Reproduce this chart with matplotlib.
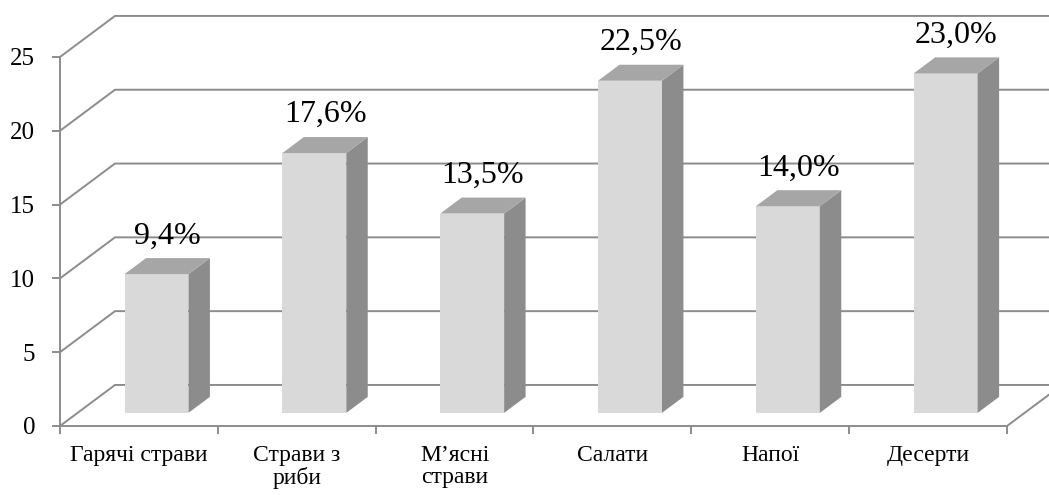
import matplotlib
matplotlib.use("Agg")
import matplotlib.pyplot as plt
from matplotlib.ticker import FixedLocator

categories = ['Гарячі страви', 'Страви з\nриби', 'М’ясні\nстрави', 'Салати', 'Напої', 'Десерти']
shares = [9.4, 17.6, 13.5, 22.5, 14.0, 23.0]
y_ticks = [0, 5, 10, 15, 20, 25]

plt.rcParams['font.family'] = ['Liberation Serif', 'DejaVu Serif']

GRID = '#8c8c8c'
FRONT = '#d9d9d9'
SIDE = '#8c8c8c'
TOP = '#a6a6a6'
LW = 1.4

# oblique depth of the box (data units) and where the bars sit inside it
DX, DY = 0.3485, 2.78
F0, FD = 0.32, 0.39
BAR_W = 0.405

fig = plt.figure(figsize=(10.49, 4.95), dpi=100)
ax = fig.add_axes([0, 0, 1, 1])
n = len(categories)
ax.set_xlim(-0.380, 6.266)
ax.set_ylim(-4.675, 28.86)

# back wall gridlines and left wall diagonals
for v in y_ticks:
    ax.plot([0, DX, n + DX + 0.5], [v, v + DY, v + DY], color=GRID, lw=LW, zorder=1)
# right floor edge
ax.plot([n, n + DX], [0, DY], color=GRID, lw=LW, zorder=1)

# bars as oblique boxes
for i, v in enumerate(shares):
    x0 = i + 0.5 - BAR_W / 2 + F0 * DX
    x1 = x0 + BAR_W
    yb = F0 * DY
    yt = yb + v
    bx, by = FD * DX, FD * DY
    ax.fill([x0, x1, x1, x0], [yb, yb, yt, yt], color=FRONT, zorder=3, lw=0)
    ax.fill([x1, x1 + bx, x1 + bx, x1], [yb, yb + by, yt + by, yt], color=SIDE, zorder=3, lw=0)
    ax.fill([x0, x1, x1 + bx, x0 + bx], [yt, yt, yt + by, yt + by], color=TOP, zorder=3, lw=0)
    ax.text((x0 + x1 + bx) / 2, yt + by + 1.0, f'{v:.1f}%'.replace('.', ','),
            ha='center', va='baseline', fontsize=23, zorder=4)

# front axes
for s in ['top', 'right']:
    ax.spines[s].set_visible(False)
ax.spines['left'].set_position(('data', 0))
ax.spines['bottom'].set_position(('data', 0))
ax.spines['left'].set_bounds(0, 25)
ax.spines['bottom'].set_bounds(0, n)
for s in ['left', 'bottom']:
    ax.spines[s].set_color(GRID)
    ax.spines[s].set_linewidth(LW)

ax.set_yticks(y_ticks)
ax.set_yticklabels([str(t) for t in y_ticks], fontsize=18)
ax.tick_params(axis='y', direction='out', length=5.8, width=LW, color=GRID, pad=12)

ax.xaxis.set_major_locator(FixedLocator(range(n + 1)))
ax.xaxis.set_minor_locator(FixedLocator([i + 0.5 for i in range(n)]))
ax.set_xticklabels([])
ax.set_xticklabels(categories, minor=True, fontsize=17, linespacing=1.05)
ax.tick_params(axis='x', which='major', direction='out', length=6, width=LW, color=GRID)
ax.tick_params(axis='x', which='minor', length=0, pad=14)

fig.savefig('out.png', dpi=100)
